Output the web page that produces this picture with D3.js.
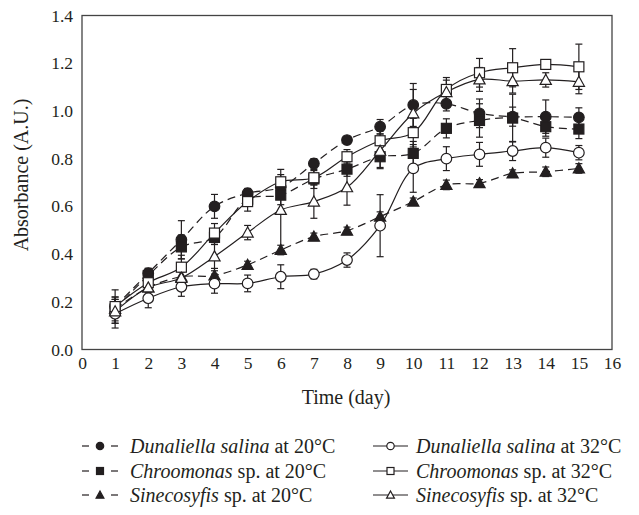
<!DOCTYPE html>
<html><head><meta charset="utf-8">
<script src="https://cdn.jsdelivr.net/npm/d3@7"></script>
<style>
body{margin:0;background:#fff;}
svg{display:block;font-family:"Liberation Serif","DejaVu Serif",serif;}
</style></head>
<body><svg id="c" width="639" height="515"></svg>
<script>
const days = [1,2,3,4,5,6,7,8,9,10,11,12,13,14,15];
const xTicks = [0,1,2,3,4,5,6,7,8,9,10,11,12,13,14,15,16];
const yTicks = [0,0.2,0.4,0.6,0.8,1.0,1.2,1.4];

const dsal20 = [0.18,0.32,0.46,0.60,0.655,0.68,0.78,0.878,0.934,1.025,1.03,0.99,0.976,0.976,0.973];
const dsal20Err = [0.07,0.02,0.08,0.05,0.02,0.03,0.02,0.015,0.03,0.09,0.03,0.06,0.04,0.07,0.04];
const chr20 = [0.17,0.31,0.43,0.47,0.63,0.647,0.715,0.756,0.808,0.822,0.927,0.96,0.97,0.934,0.924];
const chr20Err = [0.05,0.03,0.05,0.03,0.03,0.04,0.04,0.03,0.05,0.05,0.04,0.07,0.1,0.04,0.04];
const sin20 = [0.17,0.26,0.305,0.31,0.355,0.417,0.473,0.498,0.557,0.62,0.69,0.697,0.738,0.745,0.759];
const sin20Err = [0.03,0.02,0.02,0.03,0.015,0.02,0.015,0.015,0.02,0.015,0.02,0.015,0.015,0.02,0.02];
const dsal32 = [0.15,0.215,0.263,0.276,0.277,0.305,0.316,0.375,0.519,0.759,0.80,0.818,0.832,0.846,0.825];
const dsal32Err = [0.06,0.04,0.04,0.04,0.035,0.05,0.02,0.03,0.13,0.1,0.05,0.05,0.04,0.04,0.03];
const chr32 = [0.18,0.28,0.345,0.488,0.62,0.703,0.72,0.808,0.875,0.909,1.09,1.16,1.181,1.195,1.185];
const chr32Err = [0.04,0.03,0.05,0.04,0.04,0.03,0.03,0.03,0.04,0.06,0.05,0.06,0.08,0.02,0.095];
const sin32 = [0.16,0.26,0.30,0.39,0.49,0.585,0.62,0.68,0.833,0.99,1.079,1.132,1.125,1.13,1.122];
const sin32Err = [0.05,0.03,0.04,0.06,0.03,0.17,0.07,0.075,0.07,0.1,0.05,0.05,0.05,0.03,0.05];

const seriesNames = ["Dunaliella salina","Chroomonas","Sinecosyfis","Dunaliella salina","Chroomonas","Sinecosyfis"];
const seriesSuffix = [""," sp."," sp.",""," sp."," sp."];
const seriesTemps = ["20°C","20°C","20°C","32°C","32°C","32°C"];

const series = [
  {v:dsal20,e:dsal20Err,shape:"circle",filled:true,dashed:true},
  {v:chr20,e:chr20Err,shape:"square",filled:true,dashed:true},
  {v:sin20,e:sin20Err,shape:"triangle",filled:true,dashed:true},
  {v:dsal32,e:dsal32Err,shape:"circle",filled:false,dashed:false},
  {v:chr32,e:chr32Err,shape:"square",filled:false,dashed:false},
  {v:sin32,e:sin32Err,shape:"triangle",filled:false,dashed:false}
];
series.forEach((s,i)=>{s.name=seriesNames[i];s.suffix=seriesSuffix[i];s.temp=seriesTemps[i];});

const svg = d3.select("#c");
const L=82,R=612,T=15.5,B=349.5;
const x = d3.scaleLinear().domain([0,16]).range([L,R]);
const y = d3.scaleLinear().domain([0,1.4]).range([B,T]);
const ink="#231f20";

svg.append("rect").attr("x",L).attr("y",T).attr("width",R-L).attr("height",B-T)
  .attr("fill","none").attr("stroke","#444").attr("stroke-width",1.3);

const xa = svg.append("g").attr("transform",`translate(0,${B})`)
  .call(d3.axisBottom(x).tickValues(xTicks).tickFormat(d3.format("d")).tickSize(0).tickPadding(7));
const ya = svg.append("g").attr("transform",`translate(${L},0)`)
  .call(d3.axisLeft(y).tickValues(yTicks).tickFormat(d3.format(".1f")).tickSize(0).tickPadding(9));
[xa,ya].forEach(g=>{g.select(".domain").remove();
  g.selectAll("text").attr("font-size",17.5).attr("fill",ink).attr("font-family","Liberation Serif, serif");});

svg.append("text").attr("x",346).attr("y",404).attr("text-anchor","middle")
  .attr("font-size",20).attr("fill",ink).text("Time (day)");
svg.append("text").attr("transform",`translate(28,175) rotate(-90)`).attr("text-anchor","middle")
  .attr("font-size",20).attr("fill",ink).text("Absorbance (A.U.)");

const line = d3.line().x((d,i)=>x(days[i])).y(d=>y(d)).curve(d3.curveCatmullRom.alpha(0.5));

function drawMarker(g,shape,filled,cx,cy,sz){
  const fill = filled?ink:"#fff";
  if(shape==="circle"){
    g.append("circle").attr("cx",cx).attr("cy",cy).attr("r",sz*0.53).attr("fill",fill).attr("stroke",ink).attr("stroke-width",1.2);
  } else if(shape==="square"){
    const h=sz*0.5;
    g.append("rect").attr("x",cx-h).attr("y",cy-h).attr("width",2*h).attr("height",2*h).attr("fill",fill).attr("stroke",ink).attr("stroke-width",1.2);
  } else {
    const h=sz*0.56;
    g.append("path").attr("d",`M${cx},${cy-h}L${cx+h},${cy+h*0.8}L${cx-h},${cy+h*0.8}Z`).attr("fill",fill).attr("stroke",ink).attr("stroke-width",1.2);
  }
}

const eg = svg.append("g");
series.forEach(s=>{
  s.v.forEach((v,i)=>{
    const cx=x(days[i]);
    eg.append("line").attr("x1",cx).attr("x2",cx).attr("y1",y(v+s.e[i])).attr("y2",y(v-s.e[i])).attr("stroke",ink).attr("stroke-width",1.2);
    [v+s.e[i],v-s.e[i]].forEach(t=>eg.append("line").attr("x1",cx-3.5).attr("x2",cx+3.5).attr("y1",y(t)).attr("y2",y(t)).attr("stroke",ink).attr("stroke-width",1.2));
  });
});
series.forEach(s=>{
  svg.append("path").datum(s.v).attr("d",line).attr("fill","none").attr("stroke",ink)
    .attr("stroke-width",1.2).attr("stroke-dasharray",s.dashed?"8,5":null);
});
series.forEach(s=>{
  const g=svg.append("g");
  s.v.forEach((v,i)=>drawMarker(g,s.shape,s.filled,x(days[i]),y(v),10));
});

const legRows=[446,471,495];
const legCols=[{sx:82,ex:118,tx:130},{sx:373,ex:408,tx:416}];
series.forEach((s,i)=>{
  const col=legCols[i<3?0:1], ry=legRows[i%3];
  const g=svg.append("g");
  if(s.dashed){
    g.append("line").attr("x1",col.sx).attr("x2",col.sx+7).attr("y1",ry).attr("y2",ry).attr("stroke",ink).attr("stroke-width",1.2);
    g.append("line").attr("x1",col.ex-7).attr("x2",col.ex).attr("y1",ry).attr("y2",ry).attr("stroke",ink).attr("stroke-width",1.2);
  } else {
    g.append("line").attr("x1",col.sx).attr("x2",col.ex).attr("y1",ry).attr("y2",ry).attr("stroke",ink).attr("stroke-width",1.2);
  }
  drawMarker(g,s.shape,s.filled,(col.sx+col.ex)/2,ry,7);
  const t=g.append("text").attr("x",col.tx).attr("y",ry+6.5).attr("font-size",20).attr("fill",ink);
  t.append("tspan").attr("font-style","italic").text(s.name);
  t.append("tspan").text(s.suffix+" at "+s.temp);
});
</script></body></html>
